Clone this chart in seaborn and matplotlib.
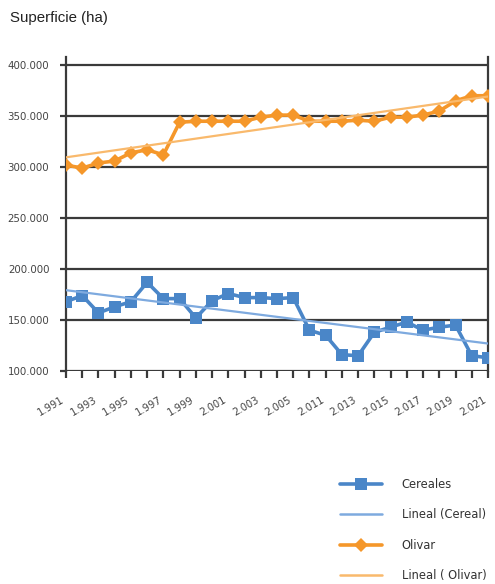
import numpy as np
import pandas as pd
import matplotlib
matplotlib.use("Agg")
import matplotlib.pyplot as plt
import matplotlib.transforms as mtransforms
from matplotlib.lines import Line2D
import seaborn as sns

# Campaign years (gap between 2005 and 2010)
years = ["1.991", "1.992", "1.993", "1.994", "1.995", "1.996", "1.997", "1.998",
         "1.999", "2.000", "2.001", "2.002", "2.003", "2.004", "2.005",
         "2.010", "2.011", "2.012", "2.013", "2.014", "2.015", "2.016",
         "2.017", "2.018", "2.019", "2.020", "2.021"]

# Surface in hectares
cereales = [168000, 174000, 157000, 163000, 168000, 187000, 171000, 171000,
            152000, 169000, 176000, 172000, 172000, 171000, 172000,
            140000, 135000, 116000, 115000, 138000, 143000, 148000,
            140000, 143000, 145000, 115000, 113000]
olivar = [302000, 299000, 304000, 306000, 314000, 317000, 312000, 344000,
          345000, 345000, 345000, 345000, 349000, 351000, 351000,
          345000, 345000, 345000, 346000, 345000, 349000, 349000,
          351000, 355000, 365000, 370000, 370000]

y_ticks = [100000, 150000, 200000, 250000, 300000, 350000, 400000]

BLUE = "#4a86c8"
BLUE_TREND = "#7eaadf"
ORANGE = "#f5972a"
ORANGE_TREND = "#f9b96c"
DARK = "#3a3a3a"

sns.set_theme(style="white")
plt.rcParams["font.family"] = ["DejaVu Sans"]

df = pd.DataFrame({"idx": np.arange(len(years)), "year": years,
                   "Cereales": cereales, "Olivar": olivar})
c_fit = np.polyval(np.polyfit(df["idx"], df["Cereales"], 1), df["idx"])
o_fit = np.polyval(np.polyfit(df["idx"], df["Olivar"], 1), df["idx"])
df["Lineal (Cereal)"] = c_fit
df["Lineal ( Olivar)"] = o_fit

fig = plt.figure(figsize=(4.95, 5.84), dpi=100)
ax = fig.add_axes([66 / 495, 1 - 371 / 584, (488 - 66) / 495, (371 - 57) / 584])

sns.lineplot(data=df, x="idx", y="Cereales", ax=ax, color=BLUE, lw=2.6,
             marker="s", markersize=9, markeredgewidth=0, zorder=3)
sns.lineplot(data=df, x="idx", y="Olivar", ax=ax, color=ORANGE, lw=2.6,
             marker="D", markersize=7.5, markeredgewidth=0, zorder=3)
sns.lineplot(data=df, x="idx", y="Lineal (Cereal)", ax=ax, color=BLUE_TREND,
             lw=1.6, zorder=4)
sns.lineplot(data=df, x="idx", y="Lineal ( Olivar)", ax=ax, color=ORANGE_TREND,
             lw=1.6, zorder=4)

ax.set_xlim(0, len(years) - 1)
ax.set_ylim(100000, 408000)
ax.set_xlabel("")
ax.set_ylabel("")

# Horizontal gridlines
for v in y_ticks:
    ax.axhline(v, color=DARK, lw=1.6, zorder=1)

for side in ["top", "bottom"]:
    ax.spines[side].set_visible(False)
for side in ["left", "right"]:
    ax.spines[side].set_visible(True)
    ax.spines[side].set_color(DARK)
    ax.spines[side].set_linewidth(1.6)

ax.set_yticks(y_ticks)
ax.set_yticklabels([f"{v // 1000}.000" for v in y_ticks], fontsize=7.4,
                   color="#444444")
ax.set_xticks(df["idx"])
ax.set_xticklabels([y if i % 2 == 0 else "" for i, y in enumerate(years)],
                   fontsize=7.2, color="#444444", rotation=30, ha="right")
offset = mtransforms.ScaledTranslation(8 / 100, 0, fig.dpi_scale_trans)
for lab in ax.get_xticklabels():
    lab.set_transform(lab.get_transform() + offset)
ax.tick_params(axis="x", which="major", bottom=True, length=5, width=1.6,
               color=DARK, pad=12)
ax.tick_params(axis="y", which="major", left=True, length=4, width=1.6,
               color=DARK, pad=8)
ax.yaxis.set_tick_params(right=False)

fig.text(10 / 495, 1 - 18 / 584, "Superficie (ha)", fontsize=10.8,
         color="#222222", va="center", ha="left",
         family=["Liberation Sans", "DejaVu Sans"])

handles = [
    Line2D([], [], color=BLUE, lw=2.6, marker="s", markersize=9,
           markeredgewidth=0),
    Line2D([], [], color=BLUE_TREND, lw=1.8),
    Line2D([], [], color=ORANGE, lw=2.6, marker="D", markersize=7.5,
           markeredgewidth=0),
    Line2D([], [], color=ORANGE_TREND, lw=1.8),
]
labels = ["Cereales", "Lineal (Cereal)", "Olivar", "Lineal ( Olivar)"]
fig.legend(handles, labels, loc="upper left",
           bbox_to_anchor=(340 / 495, 1 - 478 / 584), frameon=False,
           fontsize=8.3, borderpad=0, borderaxespad=0, handlelength=3.6,
           handletextpad=1.75, labelspacing=1.5, labelcolor="#333333")

fig.savefig("out.png", dpi=100)
